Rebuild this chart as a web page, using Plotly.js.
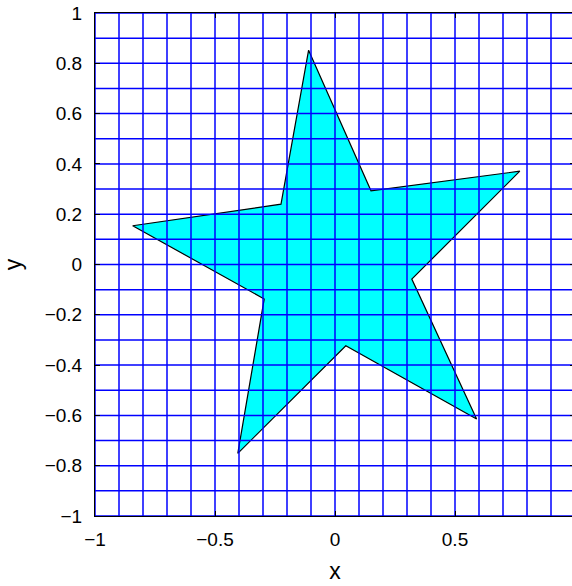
<!DOCTYPE html>
<html>
<head>
<meta charset="utf-8">
<script src="https://cdn.plot.ly/plotly-3.0.1.min.js"></script>
<style>
  html, body { margin: 0; padding: 0; overflow: hidden; background: #fff; }
  #chart { width: 580px; height: 586px; }
</style>
</head>
<body>
<div id="chart"></div>
<script>
// Star outline vertices (closed polygon)
const starX = [-0.11, 0.15, 0.77, 0.32, 0.59, 0.045, -0.405, -0.295, -0.843, -0.225, -0.11];
const starY = [0.852, 0.293, 0.371, -0.058, -0.614, -0.323, -0.751, -0.137, 0.154, 0.24, 0.852];

// Grid positions (every 0.1 on both axes)
const gridX = [-1, -0.9, -0.8, -0.7, -0.6, -0.5, -0.4, -0.3, -0.2, -0.1, 0, 0.1, 0.2, 0.3, 0.4, 0.5, 0.6, 0.7, 0.8, 0.9, 1];
const gridY = [-1, -0.9, -0.8, -0.7, -0.6, -0.5, -0.4, -0.3, -0.2, -0.1, 0, 0.1, 0.2, 0.3, 0.4, 0.5, 0.6, 0.7, 0.8, 0.9, 1];

// Tick labels
const xTicks = [-1, -0.5, 0, 0.5, 1];
const yTicks = [-1, -0.8, -0.6, -0.4, -0.2, 0, 0.2, 0.4, 0.6, 0.8, 1];

// Grid drawn as a line trace so it sits on top of the filled star
const gx = [], gy = [];
gridX.forEach(v => { gx.push(v, v, null); gy.push(-1, 1, null); });
gridY.forEach(v => { gx.push(-1, 1, null); gy.push(v, v, null); });

const traces = [
  {
    type: 'scatter', mode: 'lines',
    x: starX, y: starY,
    fill: 'toself', fillcolor: '#00ffff',
    line: { color: '#000000', width: 1.2 },
    hoverinfo: 'skip', showlegend: false
  },
  {
    type: 'scatter', mode: 'lines',
    x: gx, y: gy,
    line: { color: '#0000ff', width: 1.5 },
    hoverinfo: 'skip', showlegend: false
  }
];

const fontFam = '"Liberation Sans", Arial, Helvetica, sans-serif';

const layout = {
  width: 580, height: 586,
  margin: { l: 95, r: 5, t: 13, b: 70 },
  paper_bgcolor: '#ffffff', plot_bgcolor: '#ffffff',
  showlegend: false,
  font: { family: fontFam, size: 19, color: '#000000' },
  xaxis: {
    range: [-1, 1], showgrid: false, zeroline: false,
    tickmode: 'array', tickvals: xTicks,
    ticks: 'inside', ticklen: 5, tickcolor: '#000000', tickwidth: 1,
    ticklabelstandoff: 6,
    showline: true, linecolor: '#000000', linewidth: 1, mirror: 'ticks',
    layer: 'above traces',
    tickfont: { family: fontFam, size: 19, color: '#000000' },
    title: { text: 'x', font: { family: fontFam, size: 23, color: '#000000' }, standoff: 14 }
  },
  yaxis: {
    range: [-1, 1], showgrid: false, zeroline: false,
    tickmode: 'array', tickvals: yTicks,
    ticks: 'inside', ticklen: 5, tickcolor: '#000000', tickwidth: 1,
    ticklabelstandoff: 8,
    showline: true, linecolor: '#000000', linewidth: 1, mirror: 'ticks',
    layer: 'above traces',
    tickfont: { family: fontFam, size: 19, color: '#000000' },
    title: { text: 'y', font: { family: fontFam, size: 23, color: '#000000' }, standoff: 16 }
  }
};

Plotly.newPlot('chart', traces, layout, { staticPlot: true, displayModeBar: false });
</script>
</body>
</html>
